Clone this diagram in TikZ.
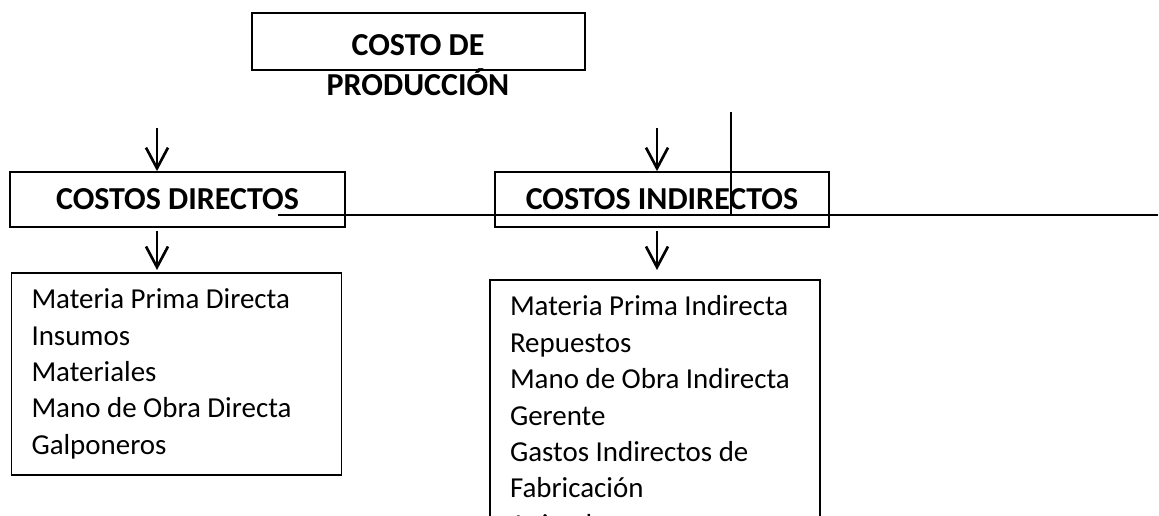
\documentclass[tikz,border=0pt]{standalone}
\usepackage{fontspec}
\setmainfont{Carlito}
\usetikzlibrary{arrows.meta, positioning, calc}

\begin{document}
\begin{tikzpicture}[x=0.75pt,y=-0.75pt,line width=1pt,
                    box node/.style={draw,line width=1.3pt,rectangle,inner sep=0pt},
                    head node/.style={box node,minimum width=251pt,minimum height=41.25pt,
                                      font=\fontsize{24}{30}\selectfont\bfseries},
                    list node/.style={box node,align=flush left,text width=217.5pt,inner xsep=15pt,inner ysep=12pt,
                                      font=\fontsize{21.7}{27.3}\selectfont},
                    arr/.style={-{Straight Barb[length=15.5pt,width=16.5pt,line width=2pt]},line width=0.8pt}]

  \useasboundingbox (0,0) rectangle (1159,516);

  % top box and its text, which runs out of it
  \node[box node,minimum width=250pt,minimum height=42.75pt] (costo) at (418.5,41.5) {};
  \node[font=\fontsize{24}{30}\selectfont\bfseries,align=center,inner sep=0pt,anchor=base]
    (costotxt) at (418,96) {COSTO DE\\PRODUCCIÓN};

  \node[head node] (dir) at (177.5,199.5) {COSTOS DIRECTOS};
  \node[head node] (ind) at (662,199.5) {COSTOS INDIRECTOS};

  \node[list node,anchor=north] (dirlist) at (176.5,272)
    {Materia Prima Directa\\Insumos\\Materiales\\Mano de Obra Directa\\Galponeros};
  \node[list node,anchor=north] (indlist) at (655,279)
    {Materia Prima Indirecta\\Repuestos\\Mano de Obra Indirecta\\Gerente\\Gastos Indirectos de\\Fabricación\\Animales};

  % arrows
  \coordinate (a1) at (157,128);
  \coordinate (a2) at (657,128);
  \draw[arr] (a1) -- (a1 |- dir.north);
  \draw[arr] (a2) -- (a2 |- ind.north);
  \draw[arr] ($(dir.south -| a1)+(0,3)$) -- ($(dirlist.north -| a1)+(0,-2)$);
  \draw[arr] ($(ind.south -| a2)+(0,3)$) -- ($(indlist.north -| a2)+(0,-9)$);

  % loose lines
  \coordinate (h1) at (278,215);
  \coordinate (h2) at (1158,215);
  \coordinate (v1) at (731,112);
  \draw (h1) -- (h2);
  \draw (v1) -- (v1 |- h1);
\end{tikzpicture}
\end{document}
